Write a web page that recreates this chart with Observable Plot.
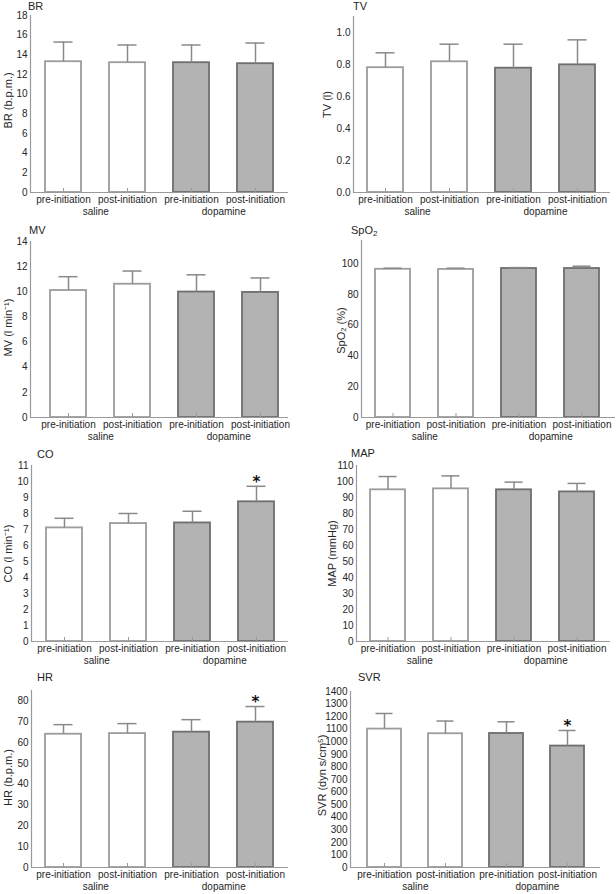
<!DOCTYPE html>
<html><head><meta charset="utf-8">
<script src="https://cdn.jsdelivr.net/npm/d3@7"></script>
<script src="https://cdn.jsdelivr.net/npm/@observablehq/plot@0.6"></script>
<style>
html,body{margin:0;padding:0;background:#fff;overflow:hidden;}
#wrap{position:relative;width:616px;height:894px;font-family:"Liberation Sans",Arial,sans-serif;}
.panel{position:absolute;}
.ttl{position:absolute;font-size:11px;line-height:14px;color:#262626;white-space:nowrap;}
.ttl sub{font-size:8px;vertical-align:-2px;line-height:0;}
</style></head><body><div id="wrap"></div>
<script>
// ---- data ----
const conditions = ["pre-initiation", "post-initiation", "pre-initiation", "post-initiation"];
const groups = ["saline", "saline", "dopamine", "dopamine"];
const groupNames = ["saline", "dopamine"];

const brMean = [13.3, 13.2, 13.2, 13.1];
const brUpper = [15.3, 15.0, 15.0, 15.2];
const tvMean = [0.78, 0.817, 0.777, 0.798];
const tvUpper = [0.873, 0.927, 0.927, 0.954];
const mvMean = [10.1, 10.6, 9.98, 9.95];
const mvUpper = [11.2, 11.65, 11.35, 11.1];
const spo2Mean = [96.3, 96.2, 96.8, 96.8];
const spo2Upper = [97.0, 97.0, 97.4, 98.3];
const coMean = [7.1, 7.37, 7.41, 8.73];
const coUpper = [7.7, 8.0, 8.14, 9.7];
const mapMean = [94.8, 95.4, 94.8, 93.5];
const mapUpper = [103.1, 103.5, 99.6, 98.8];
const hrMean = [64.0, 64.3, 65.0, 69.8];
const hrUpper = [68.6, 69.1, 71.0, 77.3];
const svrMean = [1101, 1064, 1066, 966];
const svrUpper = [1225, 1165, 1159, 1090];

const coSig = [0, 0, 0, 1];
const hrSig = [0, 0, 0, 1];
const svrSig = [0, 0, 0, 1];
const noSig = [0, 0, 0, 0];

const brTicks = [0, 2, 4, 6, 8, 10, 12, 14, 16, 18];
const tvTicks = [0, 0.2, 0.4, 0.6, 0.8, 1.0];
const mvTicks = [0, 2, 4, 6, 8, 10, 12, 14];
const spo2Ticks = [0, 20, 40, 60, 80, 100];
const coTicks = [0, 1, 2, 3, 4, 5, 6, 7, 8, 9, 10, 11];
const mapTicks = [0, 10, 20, 30, 40, 50, 60, 70, 80, 90, 100, 110];
const hrTicks = [0, 10, 20, 30, 40, 50, 60, 70, 80];
const svrTicks = [0, 100, 200, 300, 400, 500, 600, 700, 800, 900, 1000, 1100, 1200, 1300, 1400];

const yMax = [18, 1.1, 14, 115, 11, 110, 85, 1400];
const titles = ["BR", "TV", "MV", "SpO<sub>2</sub>", "CO", "MAP", "HR", "SVR"];
const yLabels = ["BR (b.p.m.)", "TV (l)", "MV (l min\u207B\u00B9)", "SpO\u2082 (%)", "CO (l min\u207B\u00B9)", "MAP (mmHg)", "HR (b.p.m.)", "SVR (dyn s/cm\u2075)"];

const means = [brMean, tvMean, mvMean, spo2Mean, coMean, mapMean, hrMean, svrMean];
const uppers = [brUpper, tvUpper, mvUpper, spo2Upper, coUpper, mapUpper, hrUpper, svrUpper];
const sigs = [noSig, noSig, noSig, noSig, coSig, noSig, hrSig, svrSig];
const tickSets = [brTicks, tvTicks, mvTicks, spo2Ticks, coTicks, mapTicks, hrTicks, svrTicks];

// ---- layout (page pixels) ----
const layout = [
  {colX: 0,   top: 0,   axis: 30,  yTop: 15,  y0: 192, range: [30, 288],  end: 288, labelC: 8,   labelY: 100, titleX: 28,  titleY: 6},
  {colX: 308, top: 0,   axis: 353, yTop: 16,  y0: 192, range: [353, 609], end: 610, labelC: 327, labelY: 104, titleX: 353, titleY: 6},
  {colX: 0,   top: 215, axis: 30,  yTop: 241, y0: 417, range: [35, 293],  end: 288, labelC: 8,   labelY: 327, titleX: 29,  titleY: 230},
  {colX: 308, top: 215, axis: 361, yTop: 240, y0: 417, range: [360, 614], end: 615, labelC: 341, labelY: 330, titleX: 351, titleY: 230},
  {colX: 0,   top: 430, axis: 31,  yTop: 465, y0: 641, range: [31, 289],  end: 288, labelC: 8,   labelY: 553, titleX: 37,  titleY: 454},
  {colX: 308, top: 430, axis: 356, yTop: 465, y0: 641, range: [355, 609], end: 610, labelC: 332, labelY: 553, titleX: 351, titleY: 453},
  {colX: 0,   top: 660, axis: 31,  yTop: 690, y0: 867, range: [30, 288],  end: 288, labelC: 8,   labelY: 777, titleX: 37,  titleY: 677},
  {colX: 308, top: 660, axis: 350, yTop: 691, y0: 867, range: [352, 599], end: 600, labelC: 322, labelY: 775, titleX: 358, titleY: 677}
];

const wrap = document.getElementById("wrap");
const keys = conditions.map((c, i) => groups[i] + "|" + c);
const TXT = "#262626", AX = "#9a9a9a", ERR = "#8a8a8a";

layout.forEach((L, p) => {
  const rows = keys.map((k, i) => ({key: k, group: groups[i], mean: means[p][i], upper: uppers[p][i], sig: sigs[p][i]}));
  const groupRows = groupNames.map(g => ({key: keys[groups.indexOf(g)], name: g}));
  const mb = 27;
  const height = L.y0 - L.top + mb;
  const step = (L.range[1] - L.range[0]) / 4;
  const fmt = p === 1 ? d3.format(".1f") : d3.format("d");
  const frameMid = (L.yTop + L.y0) / 2;
  const chart = Plot.plot({
    width: 308,
    height,
    marginLeft: L.axis - L.colX,
    marginRight: L.colX + 308 - L.end,
    marginTop: L.yTop - L.top,
    marginBottom: mb,
    style: {fontFamily: "'Liberation Sans', Arial, sans-serif", fontSize: "10px", color: TXT, background: "transparent", overflow: "visible"},
    x: {domain: keys, range: [L.range[0] - L.colX, L.range[1] - L.colX], paddingInner: 0.44, paddingOuter: 0.22, axis: null},
    y: {domain: [0, yMax[p]], axis: null},
    marks: [
      Plot.barY(rows.filter(d => d.group === "saline"), {x: "key", y: "mean", fill: "#ffffff", stroke: "#9c9c9c", strokeWidth: 1.8}),
      Plot.barY(rows.filter(d => d.group === "dopamine"), {x: "key", y: "mean", fill: "#b3b3b3", stroke: "#6e6e6e", strokeWidth: 1.8}),
      Plot.ruleX(rows, {x: "key", y1: "mean", y2: "upper", stroke: ERR, strokeWidth: 1.5}),
      Plot.tickY(rows, {x: "key", y: "upper", stroke: ERR, strokeWidth: 1.5, inset: 8.5}),
      Plot.text(rows.filter(d => d.sig), {x: "key", y: "upper", text: () => "*", fontSize: 15, fontWeight: "bold", dy: -4, fill: "#111", fontFamily: "'DejaVu Sans', sans-serif"}),
      Plot.ruleY([0], {stroke: AX, strokeWidth: 1.2}),
      Plot.frame({anchor: "left", stroke: AX, strokeWidth: 1.2}),
      Plot.axisY(tickSets[p], {tickFormat: fmt, tickSize: 0, tickPadding: 3, fill: TXT, label: null, fontSize: 10}),
      Plot.text([yLabels[p]], {text: d => d, frameAnchor: "left", textAnchor: "middle", lineAnchor: "middle", rotate: -90, dx: -(L.axis - L.labelC), dy: L.labelY - frameMid, fontSize: 11, fill: TXT}),
      Plot.axisX({tickFormat: d => conditions[keys.indexOf(d)], tickSize: -4, tickPadding: 7, stroke: AX, fill: TXT, label: null, fontSize: 10}),
      Plot.text(groupRows, {x: "key", text: "name", frameAnchor: "bottom", dx: step / 2, dy: 22, fill: TXT, fontSize: 10})
    ]
  });
  const div = document.createElement("div");
  div.className = "panel";
  div.style.left = L.colX + "px";
  div.style.top = L.top + "px";
  div.appendChild(chart);
  wrap.appendChild(div);
  const t = document.createElement("div");
  t.className = "ttl";
  t.style.left = L.titleX + "px";
  t.style.top = (L.titleY - 7) + "px";
  t.innerHTML = titles[p];
  wrap.appendChild(t);
});
</script></body></html>
